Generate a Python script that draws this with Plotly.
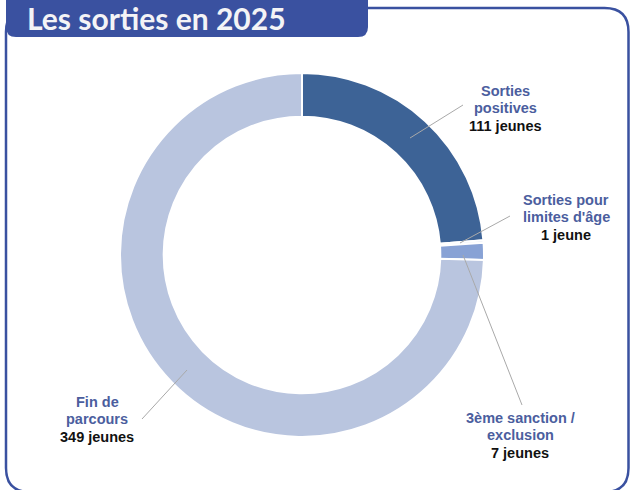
import plotly.graph_objects as go

# Données
categories = ["Sorties positives", "Sorties pour limites d'âge",
              "3ème sanction / exclusion", "Fin de parcours"]
valeurs = [111, 1, 7, 349]
noms_labels = [["Sorties", "positives"], ["Sorties pour", "limites d'âge"],
               ["3ème sanction /", "exclusion"], ["Fin de", "parcours"]]
comptes = ["111 jeunes", "1 jeune", "7 jeunes", "349 jeunes"]
couleurs = ["#3d6396", "#e4e9f3", "#88a2d5", "#b9c5df"]

W, H = 631, 490
BLEU = "#3a51a0"
TXT_BLEU = "#4b5e9e"

fig = go.Figure()

# Donut : centre (302, 255), rayon 182 px
cx, cy, r = 302, 255, 182
fig.add_trace(go.Pie(
    labels=categories,
    values=valeurs,
    sort=False,
    direction="clockwise",
    rotation=0,
    hole=0.76,
    marker=dict(colors=couleurs, line=dict(color="white", width=2)),
    textinfo="none",
    hoverinfo="label+value",
    showlegend=False,
    domain=dict(x=[(cx - r) / W, (cx + r) / W],
                y=[(H - cy - r) / H, (H - cy + r) / H]),
))

# Position des étiquettes (px) et lignes de rappel
pos_labels = [(505, 91), (566, 200), (520, 418), (97, 402)]
lignes = [((410, 138), (463, 105)), ((460, 243), (510, 216)),
          ((463, 255), (522, 405)), ((187, 370), (142, 419))]

shapes = []
# Cadre arrondi
x0, x1, y0, y1, rc = 6, 628.5, 8, 492, 24
shapes.append(dict(
    type="path",
    path=(f"M {x0+rc},{y0} L {x1-rc},{y0} Q {x1},{y0} {x1},{y0+rc} "
          f"L {x1},{y1-rc} Q {x1},{y1} {x1-rc},{y1} L {x0+rc},{y1} "
          f"Q {x0},{y1} {x0},{y1-rc} L {x0},{y0+rc} Q {x0},{y0} {x0+rc},{y0} Z"),
    line=dict(color=BLEU, width=2.5), xref="x", yref="y", layer="below"))
# Onglet du titre
tx0, tx1, ty0, ty1, rt = 6, 368, -10, 37, 10
shapes.append(dict(
    type="path",
    path=(f"M {tx0},{ty0} L {tx1},{ty0} L {tx1},{ty1-rt} Q {tx1},{ty1} {tx1-rt},{ty1} "
          f"L {tx0+rt},{ty1} Q {tx0},{ty1} {tx0},{ty1-rt} Z"),
    fillcolor=BLEU, line=dict(width=0), xref="x", yref="y", layer="below"))
for (a, b) in lignes:
    shapes.append(dict(type="line", x0=a[0], y0=a[1], x1=b[0], y1=b[1],
                       line=dict(color="#a9a9a9", width=1), xref="x", yref="y"))

annotations = [dict(
    x=25, y=18, xref="x", yref="y", xanchor="left", yanchor="middle",
    text="<b>Les sorties en 2025</b>", showarrow=False,
    font=dict(family="Lato", size=30, color="#f4f4f6"))]

for (px, py), noms, compte in zip(pos_labels, noms_labels, comptes):
    for i, t in enumerate(noms):
        annotations.append(dict(
            x=px, y=py + i * 17, xref="x", yref="y", xanchor="center",
            yanchor="middle", text=f"<b>{t}</b>", showarrow=False,
            font=dict(family="Liberation Sans", size=14.5, color=TXT_BLEU)))
    annotations.append(dict(
        x=px, y=py + 2 * 17 + 1, xref="x", yref="y", xanchor="center",
        yanchor="middle", text=f"<b>{compte}</b>", showarrow=False,
        font=dict(family="Liberation Sans", size=14.5, color="#111111")))

fig.update_layout(
    width=W, height=H,
    margin=dict(l=0, r=0, t=0, b=0),
    paper_bgcolor="white", plot_bgcolor="rgba(0,0,0,0)",
    xaxis=dict(range=[0, W], visible=False, fixedrange=True),
    yaxis=dict(range=[H, 0], visible=False, fixedrange=True),
    shapes=shapes,
    annotations=annotations,
)

fig.write_html("out.html", config={"displayModeBar": False},
               post_script="document.body.style.margin='0';")
